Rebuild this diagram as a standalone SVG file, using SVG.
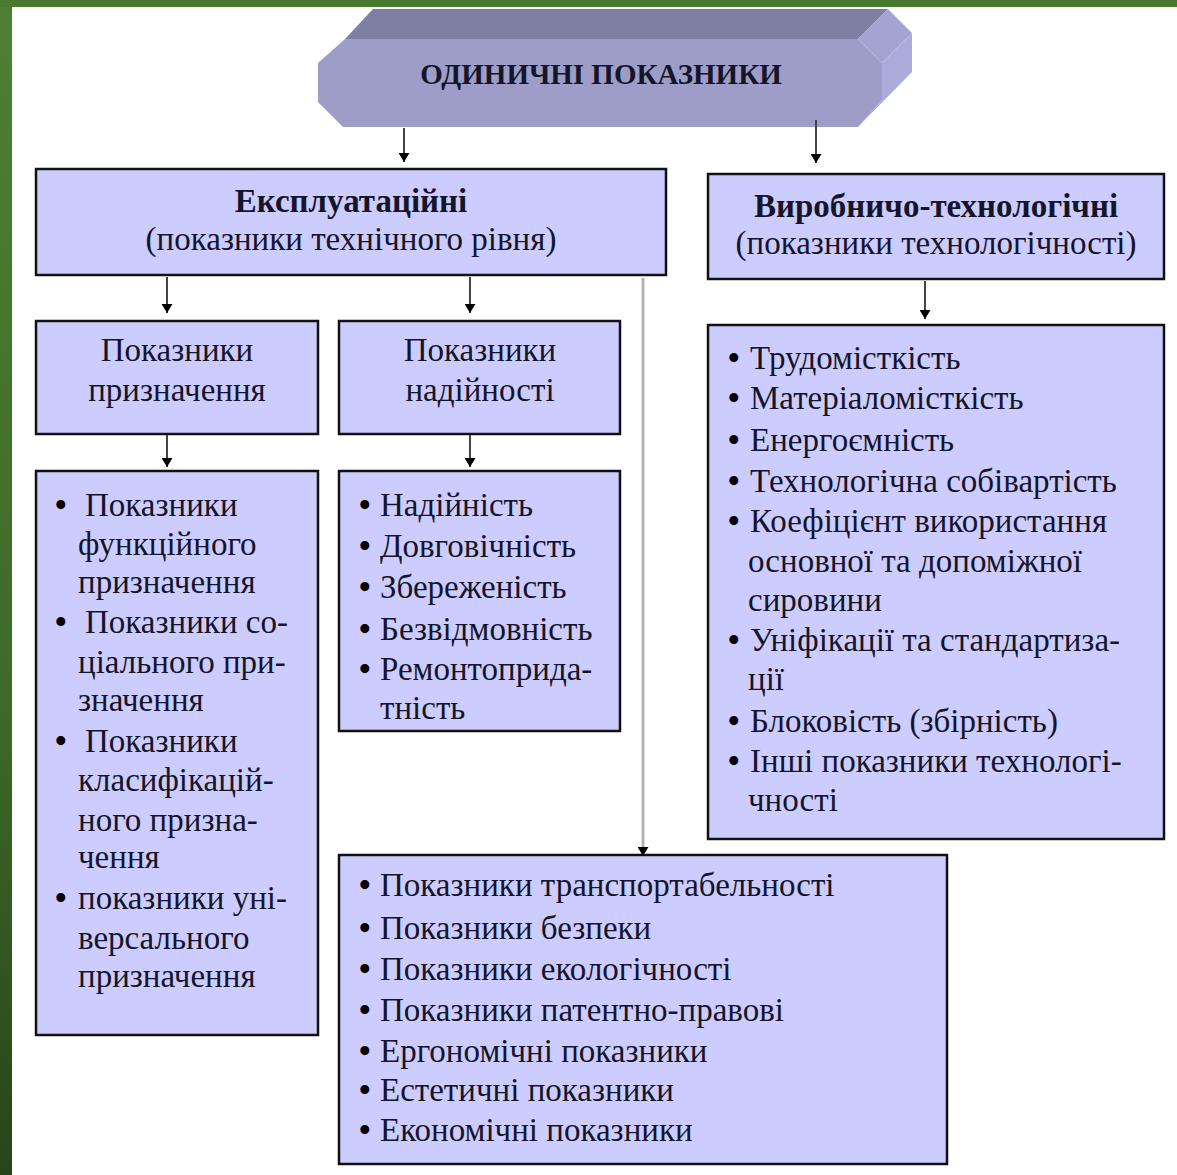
<svg xmlns="http://www.w3.org/2000/svg" width="1177" height="1175" viewBox="0 0 1177 1175">
<defs>
<linearGradient id="grn" x1="0" y1="0" x2="0" y2="1">
<stop offset="0" stop-color="#4f7f34"/>
<stop offset="0.6" stop-color="#3d6a28"/>
<stop offset="1" stop-color="#27451a"/>
</linearGradient>
<marker id="ah" viewBox="0 0 9 11" refX="9" refY="5.5" markerWidth="9" markerHeight="11" markerUnits="userSpaceOnUse" orient="auto">
<path d="M0,0 L9,5.5 L0,11 z" fill="#000"/>
</marker>
<style>
.box{fill:#ccccff;stroke:#111;stroke-width:2.5}
.t{font-family:"Liberation Serif","Times New Roman",serif;font-size:33px;fill:#15152a}
.b{font-weight:bold}
.c{text-anchor:middle}
.d{font-weight:bold;fill:#000}
.ln{stroke:#444;stroke-width:2;fill:none;marker-end:url(#ah)}
.gl{stroke:#b3b3b3;stroke-width:3;fill:none;marker-end:url(#ah)}
</style>
</defs>
<rect x="0" y="0" width="1177" height="1175" fill="#fff"/>
<rect x="0" y="0" width="12" height="1175" fill="url(#grn)"/>
<rect x="0" y="0" width="1177" height="7" fill="#4a7a30"/>

<g id="banner">
<polygon points="373,9 888,9 858,39 345,39" fill="#7f7fa3"/>
<polygon points="858,39 888,9 912,33 882,63" fill="#a4a4d2"/>
<polygon points="882,63 912,33 912,72 858,127 882,100" fill="#acacdc"/>
<polygon points="345,39 858,39 882,63 882,100 858,127 343,127 318,102 318,63" fill="#9d9dc8"/>
<text class="t b c" x="601" y="84" style="font-size:29px">ОДИНИЧНІ ПОКАЗНИКИ</text>
</g>

<g id="connectors">
<line class="ln" x1="404" y1="128" x2="404" y2="162"/>
<line class="ln" x1="816" y1="120" x2="816" y2="163"/>
<line class="ln" x1="167" y1="277" x2="167" y2="313"/>
<line class="ln" x1="470" y1="277" x2="470" y2="313"/>
<line class="ln" x1="167" y1="435" x2="167" y2="467"/>
<line class="ln" x1="470" y1="435" x2="470" y2="467"/>
<line class="ln" x1="925" y1="281" x2="925" y2="319"/>
<line class="gl" x1="643" y1="278" x2="643" y2="856"/>
</g>

<g id="expl">
<rect class="box" x="36" y="169" width="630" height="106"/>
<text class="t b c" x="351" y="212">Експлуатаційні</text>
<text class="t c" x="351" y="250">(показники технічного рівня)</text>
</g>

<g id="vyrob">
<rect class="box" x="708" y="174" width="456" height="105"/>
<text class="t b c" x="936" y="217">Виробничо-технологічні</text>
<text class="t c" x="936" y="254">(показники технологічності)</text>
</g>

<g id="pryzn">
<rect class="box" x="36" y="321" width="282" height="113"/>
<text class="t c" x="177" y="361">Показники</text>
<text class="t c" x="177" y="401">призначення</text>
</g>

<g id="nadiin">
<rect class="box" x="339" y="321" width="281" height="113"/>
<text class="t c" x="480" y="361">Показники</text>
<text class="t c" x="480" y="401">надійності</text>
</g>

<g id="list-pryzn">
<rect class="box" x="36" y="471" width="282" height="564"/>
<text class="t" y="516"><tspan class="d" x="55">•</tspan><tspan x="85">Показники</tspan></text>
<text class="t" x="78" y="555">функційного</text>
<text class="t" x="78" y="593">призначення</text>
<text class="t" y="633"><tspan class="d" x="55">•</tspan><tspan x="85">Показники со-</tspan></text>
<text class="t" x="78" y="673">ціального при-</text>
<text class="t" x="78" y="711">значення</text>
<text class="t" y="752"><tspan class="d" x="55">•</tspan><tspan x="85">Показники</tspan></text>
<text class="t" x="78" y="791">класифікацій-</text>
<text class="t" x="78" y="831">ного призна-</text>
<text class="t" x="78" y="868">чення</text>
<text class="t" y="909"><tspan class="d" x="55">•</tspan><tspan x="78">показники уні-</tspan></text>
<text class="t" x="78" y="949">версального</text>
<text class="t" x="78" y="987">призначення</text>
</g>

<g id="list-nadiin">
<rect class="box" x="339" y="471" width="281" height="260"/>
<text class="t" y="516"><tspan class="d" x="359">•</tspan><tspan x="380">Надійність</tspan></text>
<text class="t" y="557"><tspan class="d" x="359">•</tspan><tspan x="380">Довговічність</tspan></text>
<text class="t" y="598"><tspan class="d" x="359">•</tspan><tspan x="380">Збереженість</tspan></text>
<text class="t" y="640"><tspan class="d" x="359">•</tspan><tspan x="380">Безвідмовність</tspan></text>
<text class="t" y="680"><tspan class="d" x="359">•</tspan><tspan x="380">Ремонтоприда-</tspan></text>
<text class="t" x="380" y="719">тність</text>
</g>

<g id="list-vyrob">
<rect class="box" x="708" y="325" width="456" height="514"/>
<text class="t" y="369"><tspan class="d" x="728">•</tspan><tspan x="750">Трудомісткість</tspan></text>
<text class="t" y="409"><tspan class="d" x="728">•</tspan><tspan x="750">Матеріаломісткість</tspan></text>
<text class="t" y="451"><tspan class="d" x="728">•</tspan><tspan x="750">Енергоємність</tspan></text>
<text class="t" y="492"><tspan class="d" x="728">•</tspan><tspan x="750">Технологічна собівартість</tspan></text>
<text class="t" y="532"><tspan class="d" x="728">•</tspan><tspan x="750">Коефіцієнт використання</tspan></text>
<text class="t" x="748" y="572">основної та допоміжної</text>
<text class="t" x="748" y="611">сировини</text>
<text class="t" y="651"><tspan class="d" x="728">•</tspan><tspan x="750">Унiфікації та стандартиза-</tspan></text>
<text class="t" x="748" y="690">ції</text>
<text class="t" y="732"><tspan class="d" x="728">•</tspan><tspan x="750">Блоковість (збірність)</tspan></text>
<text class="t" y="772"><tspan class="d" x="728">•</tspan><tspan x="750">Інші показники технологі-</tspan></text>
<text class="t" x="748" y="811">чності</text>
</g>

<g id="list-other">
<rect class="box" x="339" y="855" width="608" height="309"/>
<text class="t" y="896"><tspan class="d" x="359">•</tspan><tspan x="380">Показники транспортабельності</tspan></text>
<text class="t" y="939"><tspan class="d" x="359">•</tspan><tspan x="380">Показники безпеки</tspan></text>
<text class="t" y="980"><tspan class="d" x="359">•</tspan><tspan x="380">Показники екологічності</tspan></text>
<text class="t" y="1021"><tspan class="d" x="359">•</tspan><tspan x="380">Показники патентно-правові</tspan></text>
<text class="t" y="1062"><tspan class="d" x="359">•</tspan><tspan x="380">Ергономічні показники</tspan></text>
<text class="t" y="1101"><tspan class="d" x="359">•</tspan><tspan x="380">Естетичні показники</tspan></text>
<text class="t" y="1141"><tspan class="d" x="359">•</tspan><tspan x="380">Економічні показники</tspan></text>
</g>
</svg>
